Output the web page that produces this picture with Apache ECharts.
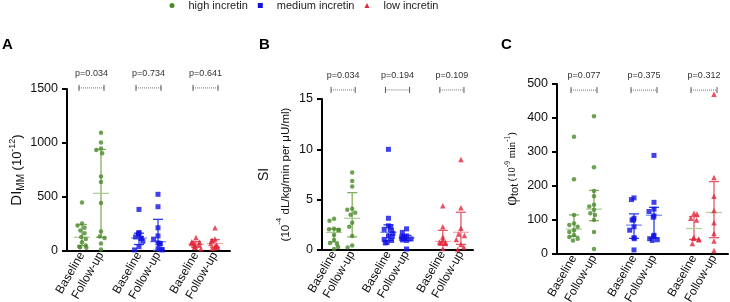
<!DOCTYPE html>
<html>
<head>
<meta charset="utf-8">
<script src="https://cdn.jsdelivr.net/npm/echarts@6/dist/echarts.min.js"></script>
<style>
  html, body { margin: 0; padding: 0; background: #fff; }
  #chart { width: 730px; height: 302px; }
</style>
</head>
<body>
<div id="chart"></div>
<script>
const FONT = 'Liberation Sans, Arial, sans-serif';
const SERIF = 'Liberation Serif, Times New Roman, serif';

const categories = ['Baseline', 'Follow-up', '', 'Baseline', 'Follow-up', '', 'Baseline', 'Follow-up'];
const groups = ['high incretin', 'medium incretin', 'low incretin'];

// A: DI_MM (10^-12)
const diHighBase = [450, 255, 235, 215, 190, 165, 130, 110, 80, 50, 40, 35, 30];
const diHighFollow = [1095, 1005, 950, 935, 905, 690, 640, 445, 180, 135, 120, 70, 15];
const diMedBase = [385, 170, 165, 155, 130, 120, 115, 90, 40, 10];
const diMedFollow = [525, 410, 215, 140, 110, 75, 70, 65, 20, 15, 10];
const diLowBase = [125, 85, 80, 75, 70, 60, 50, 40, 35, 20];
const diLowFollow = [215, 110, 100, 95, 70, 55, 45, 35, 30, 25];
// [center, low, high] for each of the 6 columns
const diBars = [[127, 50, 245], [534, 127, 940], [120, 60, 165], [86, 5, 293], [62, 35, 88], [70, 35, 105]];
const pValuesA = ['p=0.034', 'p=0.734', 'p=0.641'];

// B: SI
const siHighBase = [3.1, 2.9, 2.1, 2.05, 2.0, 1.95, 1.5, 1.0, 0.7, 0.6, 0.3, 0.1];
const siHighFollow = [7.7, 6.85, 6.3, 4.1, 4.0, 3.7, 3.5, 2.7, 2.3, 1.4, 0.45, 0.25];
const siMedBase = [10.0, 3.15, 2.4, 2.3, 2.05, 1.95, 1.65, 1.4, 1.35, 1.05, 0.95, 0.75, 0.7];
const siMedFollow = [2.1, 1.75, 1.4, 1.35, 1.3, 1.2, 1.15, 1.1, 1.0, 0.95, 0.1];
const siLowBase = [4.4, 2.3, 1.3, 1.0, 0.8, 0.75, 0.7, 0.65, 0.15];
const siLowFollow = [9.0, 4.2, 2.15, 1.6, 1.45, 1.05, 0.55, 0.3, 0.05];
const siBars = [[1.75, 0.8, 2.1], [3.15, 1.3, 5.7], [1.75, 0.95, 2.5], [1.2, 0.95, 1.45], [0.85, 0.5, 1.95], [1.76, 0.56, 3.75]];
const pValuesB = ['p=0.034', 'p=0.194', 'p=0.109'];

// C: phi_tot (10^-9 min^-1)
const phiHighBase = [345, 220, 115, 90, 85, 80, 70, 65, 55, 50, 45, 40];
const phiHighFollow = [405, 255, 185, 170, 145, 140, 130, 120, 115, 100, 65, 15];
const phiMedBase = [165, 160, 105, 100, 100, 80, 70, 48, 45, 12];
const phiMedFollow = [290, 152, 132, 125, 112, 108, 55, 52, 45, 42, 40];
const phiLowBase = [120, 118, 105, 100, 48, 46, 44, 42, 31];
const phiLowFollow = [470, 225, 170, 128, 92, 60, 38, 10];
const phiBars = [[73, 52, 115], [132, 98, 187], [85, 46, 118], [114, 47, 137], [75, 43, 110], [122, 48, 213]];
const pValuesC = ['p=0.077', 'p=0.375', 'p=0.312'];

const groupStyle = [
  { symbol: 'circle', size: 4.5, color: '#4b8a2a', bar: '#84ae62', mean: '#abca92' },
  { symbol: 'rect', size: 5, color: '#1212e4', bar: '#2b3fe4', mean: '#7088ee' },
  { symbol: 'triangle', size: 5.5, color: '#e2263a', bar: '#e35a66', mean: '#f0a2a6' }
];

const panels = [
  {
    letter: 'A', letterLeft: 2, left: 67, top: 89, width: 163, height: 162, dataLeft: 72.5, dataWidth: 152,
    max: 1500, interval: 500, bracketAt: 1510, nameGap: 31,
    name: '{n|DI}{sub|MM}{m| (10}{sup|-12}{m|)}',
    rich: {
      n: { fontSize: 15, fontFamily: FONT, color: '#111', lineHeight: 18 },
      sub: { fontSize: 10, fontFamily: FONT, color: '#111', lineHeight: 9, verticalAlign: 'bottom' },
      m: { fontSize: 13, fontFamily: FONT, color: '#111', lineHeight: 18 },
      sup: { fontSize: 9, fontFamily: FONT, color: '#111', lineHeight: 9, verticalAlign: 'top' }
    },
    values: [[diHighBase, diHighFollow], [diMedBase, diMedFollow], [diLowBase, diLowFollow]],
    bars: diBars, pValues: pValuesA, lowMean: null
  },
  {
    letter: 'B', letterLeft: 259, left: 322, top: 99, width: 151, height: 151, dataLeft: 325, dataWidth: 145,
    max: 15, interval: 5, bracketAt: 15.9, nameGap: 25,
    name: '{si|SI}\n{m|(10}{sup|-4}{m| dL/kg/min per μU/ml)}',
    rich: {
      si: { fontSize: 14, fontFamily: FONT, color: '#111', lineHeight: 22 },
      m: { fontSize: 11.5, fontFamily: FONT, color: '#111', lineHeight: 22 },
      sup: { fontSize: 8, fontFamily: FONT, color: '#111', lineHeight: 14, verticalAlign: 'top' }
    },
    values: [[siHighBase, siHighFollow], [siMedBase, siMedFollow], [siLowBase, siLowFollow]],
    bars: siBars, pValues: pValuesB, lowMean: null
  },
  {
    letter: 'C', letterLeft: 501, left: 557, top: 84, width: 171, height: 170, dataLeft: 564, dataWidth: 160,
    max: 500, interval: 100, bracketAt: 482, nameGap: 37,
    name: '{phi|φ}{sub|tot}{m| (10}{sup|-9}{m| min}{sup|-1}{m|)}',
    rich: {
      phi: { fontSize: 17, fontFamily: SERIF, color: '#111', lineHeight: 16 },
      sub: { fontSize: 11, fontFamily: FONT, color: '#111', lineHeight: 9, verticalAlign: 'bottom' },
      m: { fontSize: 10.5, fontFamily: SERIF, color: '#111', lineHeight: 16 },
      sup: { fontSize: 7.5, fontFamily: SERIF, color: '#111', lineHeight: 9, verticalAlign: 'top' }
    },
    values: [[phiHighBase, phiHighFollow], [phiMedBase, phiMedFollow], [phiLowBase, phiLowFollow]],
    bars: phiBars, pValues: pValuesC, lowMean: '#a6d39c'
  }
];

const grid = [];
const xAxis = [];
const yAxis = [];
const series = [];
const title = [];

panels.forEach((p, pi) => {
  const frame = pi * 2;
  const dataIdx = pi * 2 + 1;

  title.push({
    text: p.letter, left: p.letterLeft, top: 37, padding: 0,
    textStyle: { fontSize: 15, fontWeight: 'bold', fontFamily: FONT, color: '#000' }
  });

  // frame grid: axis lines, y ticks and y name
  grid.push({ left: p.left, top: p.top, width: p.width, height: p.height, outerBoundsMode: 'none' });
  // data grid: the marks and the category labels
  grid.push({ left: p.dataLeft, top: p.top, width: p.dataWidth, height: p.height, outerBoundsMode: 'none' });

  xAxis.push({
    type: 'value', gridIndex: frame, min: 0, max: 1,
    axisLine: { show: true, onZero: false, lineStyle: { color: '#000', width: 2 } },
    axisTick: { show: false }, axisLabel: { show: false }, splitLine: { show: false }
  });
  xAxis.push({
    type: 'category', gridIndex: dataIdx, data: categories,
    jitter: 10, jitterOverlap: false, jitterMargin: 0.5,
    axisLine: { show: false }, axisTick: { show: false }, splitLine: { show: false },
    axisLabel: { interval: 0, rotate: 60, fontSize: 12, color: '#111', fontFamily: FONT, margin: 2 }
  });

  yAxis.push({
    type: 'value', gridIndex: frame, min: 0, max: p.max, interval: p.interval,
    axisLine: { show: true, onZero: false, lineStyle: { color: '#000', width: 2 } },
    axisTick: { show: true, length: 5, lineStyle: { color: '#000', width: 2 } },
    axisLabel: { fontSize: 12.5, color: '#111', fontFamily: FONT, margin: 9, formatter: v => String(v) },
    splitLine: { show: false },
    name: p.name, nameLocation: 'middle', nameGap: p.nameGap,
    nameTextStyle: { color: '#111', fontFamily: FONT, rich: p.rich }
  });
  yAxis.push({ type: 'value', gridIndex: dataIdx, min: 0, max: p.max, show: false });

  groups.forEach((g, gi) => {
    const st = groupStyle[gi];
    const [base, follow] = p.values[gi];
    const data = base.map(v => [gi * 3, v]).concat(follow.map(v => [gi * 3 + 1, v]));
    const meanColor = gi === 2 && p.lowMean ? p.lowMean : st.mean;

    series.push({
      name: g, type: 'custom', xAxisIndex: dataIdx, yAxisIndex: dataIdx, z: 2,
      silent: true, clip: false, itemStyle: { color: st.color },
      encode: { x: 0, y: 1 },
      data: [[gi * 3].concat(p.bars[gi * 2]), [gi * 3 + 1].concat(p.bars[gi * 2 + 1])],
      renderItem(params, api) {
        const x = api.value(0);
        const c = api.coord([x, api.value(1)]);
        const lo = api.coord([x, api.value(2)]);
        const hi = api.coord([x, api.value(3)]);
        const line = (x1, y1, x2, y2, color, w) => ({
          type: 'line', shape: { x1, y1, x2, y2 }, style: { stroke: color, lineWidth: w }
        });
        return {
          type: 'group',
          children: [
            line(lo[0], lo[1], hi[0], hi[1], st.bar, 1.3),
            line(lo[0] - 5, lo[1], lo[0] + 5, lo[1], st.bar, 1.3),
            line(hi[0] - 5, hi[1], hi[0] + 5, hi[1], st.bar, 1.3),
            line(c[0] - 8, c[1], c[0] + 8, c[1], meanColor, 1.2)
          ]
        };
      }
    });

    series.push({
      name: g, type: 'scatter', xAxisIndex: dataIdx, yAxisIndex: dataIdx, z: 4,
      symbol: st.symbol, symbolSize: st.size,
      itemStyle: { color: st.color },
      data
    });
  });

  // p-value brackets above each pair
  const pList = p.pValues;
  series.push({
    type: 'custom', xAxisIndex: dataIdx, yAxisIndex: dataIdx, z: 5, silent: true, clip: false,
    encode: { x: [0, 1], y: 2 },
    data: [[0, 1, p.bracketAt], [3, 4, p.bracketAt], [6, 7, p.bracketAt]],
    renderItem(params, api) {
      const y = api.value(2);
      const a = api.coord([api.value(0), y]);
      const b = api.coord([api.value(1), y]);
      const x1 = a[0] - 3;
      const x2 = b[0] + 3;
      return {
        type: 'group',
        children: [
          { type: 'line', shape: { x1, y1: a[1], x2, y2: a[1] }, style: { stroke: '#777', lineWidth: 1, lineDash: [1, 1] } },
          { type: 'line', shape: { x1, y1: a[1] - 3, x2: x1, y2: a[1] + 3 }, style: { stroke: '#555', lineWidth: 1 } },
          { type: 'line', shape: { x1: x2, y1: a[1] - 3, x2, y2: a[1] + 3 }, style: { stroke: '#555', lineWidth: 1 } },
          {
            type: 'text',
            style: {
              text: pList[params.dataIndex], x: (x1 + x2) / 2, y: a[1] - 10,
              align: 'center', verticalAlign: 'bottom', fill: '#333', font: '9px ' + FONT
            }
          }
        ]
      };
    }
  });
});

const chart = echarts.init(document.getElementById('chart'));
chart.setOption({
  animation: false,
  backgroundColor: '#fff',
  title,
  legend: {
    left: 169.5, top: 0, padding: 0, itemWidth: 5, itemHeight: 5, itemGap: 10,
    selectedMode: false,
    textStyle: { fontSize: 11, color: '#222', fontFamily: FONT, padding: [0, 0, 0, 9] },
    data: groups.map((name, i) => ({ name, icon: groupStyle[i].symbol }))
  },
  grid,
  xAxis,
  yAxis,
  series
});
</script>
</body>
</html>
